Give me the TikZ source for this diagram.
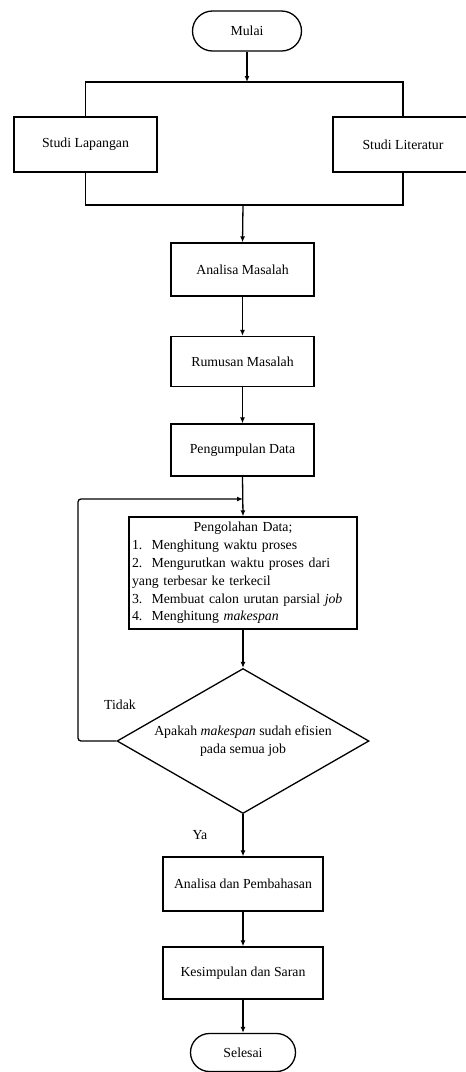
\documentclass[tikz,border=0pt]{standalone}
\usepackage{fontspec}
\setmainfont{Liberation Serif}
\usetikzlibrary{shapes.misc,shapes.geometric,arrows.meta}
\begin{document}
\begin{tikzpicture}[x=1pt,y=-1pt,
  every node/.style={font=\fontsize{13.8}{17.8}\selectfont},
  box/.style={draw,line width=1.3pt,rectangle,inner sep=2pt},
  term/.style={draw,line width=1.3pt,rounded rectangle,inner sep=2pt},
  dec/.style={draw,line width=1.3pt,diamond,aspect=1.74,inner sep=0pt,minimum width=252pt,minimum height=145pt,align=center},
  line/.style={line width=1.3pt},
  arr/.style={line width=1.3pt,-{Latex[length=6pt,width=5pt]}}]
\useasboundingbox (0,0) rectangle (466,1072);
% nodes
\node[term,minimum width=113pt,minimum height=40pt] (mulai) at (247,31) {Mulai};
\node[box,minimum width=143pt,minimum height=55pt] (lap) at (85.5,144.5) {Studi Lapangan};
\node[box,minimum width=140pt,minimum height=55pt] (lit) at (403,144.5) {Studi Literatur};
\node[box,minimum width=143pt,minimum height=53pt] (ana) at (242.5,269.5) {Analisa Masalah};
\node[box,minimum width=143pt,minimum height=50pt] (rum) at (242.5,361.5) {Rumusan Masalah};
\node[box,minimum width=143pt,minimum height=52pt] (peng) at (242.5,450) {Pengumpulan Data};
\node[box,minimum width=228pt,minimum height=112pt,text width=222pt,align=left,inner sep=3pt] (pd) at (243,573)
  {\makebox[222pt][c]{Pengolahan Data;}\\
   1.\ \ Menghitung waktu proses\\
   2.\ \ Mengurutkan waktu proses dari\\
   yang terbesar ke terkecil\\
   3.\ \ Membuat calon urutan parsial \textit{job}\\
   4.\ \ Menghitung \textit{makespan}};
\node[dec] (dia) at (243,741) {Apakah \textit{makespan} sudah efisien\\pada semua job};
\node[box,minimum width=160pt,minimum height=54pt] (ap) at (243,884) {Analisa dan Pembahasan};
\node[box,minimum width=160pt,minimum height=52pt] (ks) at (243,973) {Kesimpulan dan Saran};
\node[term,minimum width=109pt,minimum height=38pt] (sel) at (243,1052.5) {Selesai};
\node (tidak) at (120,705) {Tidak};
\node (ya) at (200,835) {Ya};
% junctions
\coordinate (j1) at (247,82);
\coordinate (j2) at (243,205);
\coordinate (j3) at (243,499);
\coordinate (lp) at (78,499);
% connectors
\draw[arr] (mulai.south) -- (j1);
\draw[line] (lap.north) |- (j1) -| (lit.north);
\draw[line] (lap.south) |- (j2) -| (lit.south);
\draw[arr] (j2) -- (ana.north);
\draw[arr] (ana.south) -- (rum.north);
\draw[arr] (rum.south) -- (peng.north);
\draw[arr] (peng.south) -- (pd.north);
\draw[arr] (pd.south) -- (dia.north);
\draw[arr,rounded corners=3pt] (dia.west) -| (lp) -- (j3);
\draw[arr] (dia.south) -- (ap.north);
\draw[arr] (ap.south) -- (ks.north);
\draw[arr] (ks.south) -- (sel.north);
\end{tikzpicture}
\end{document}
